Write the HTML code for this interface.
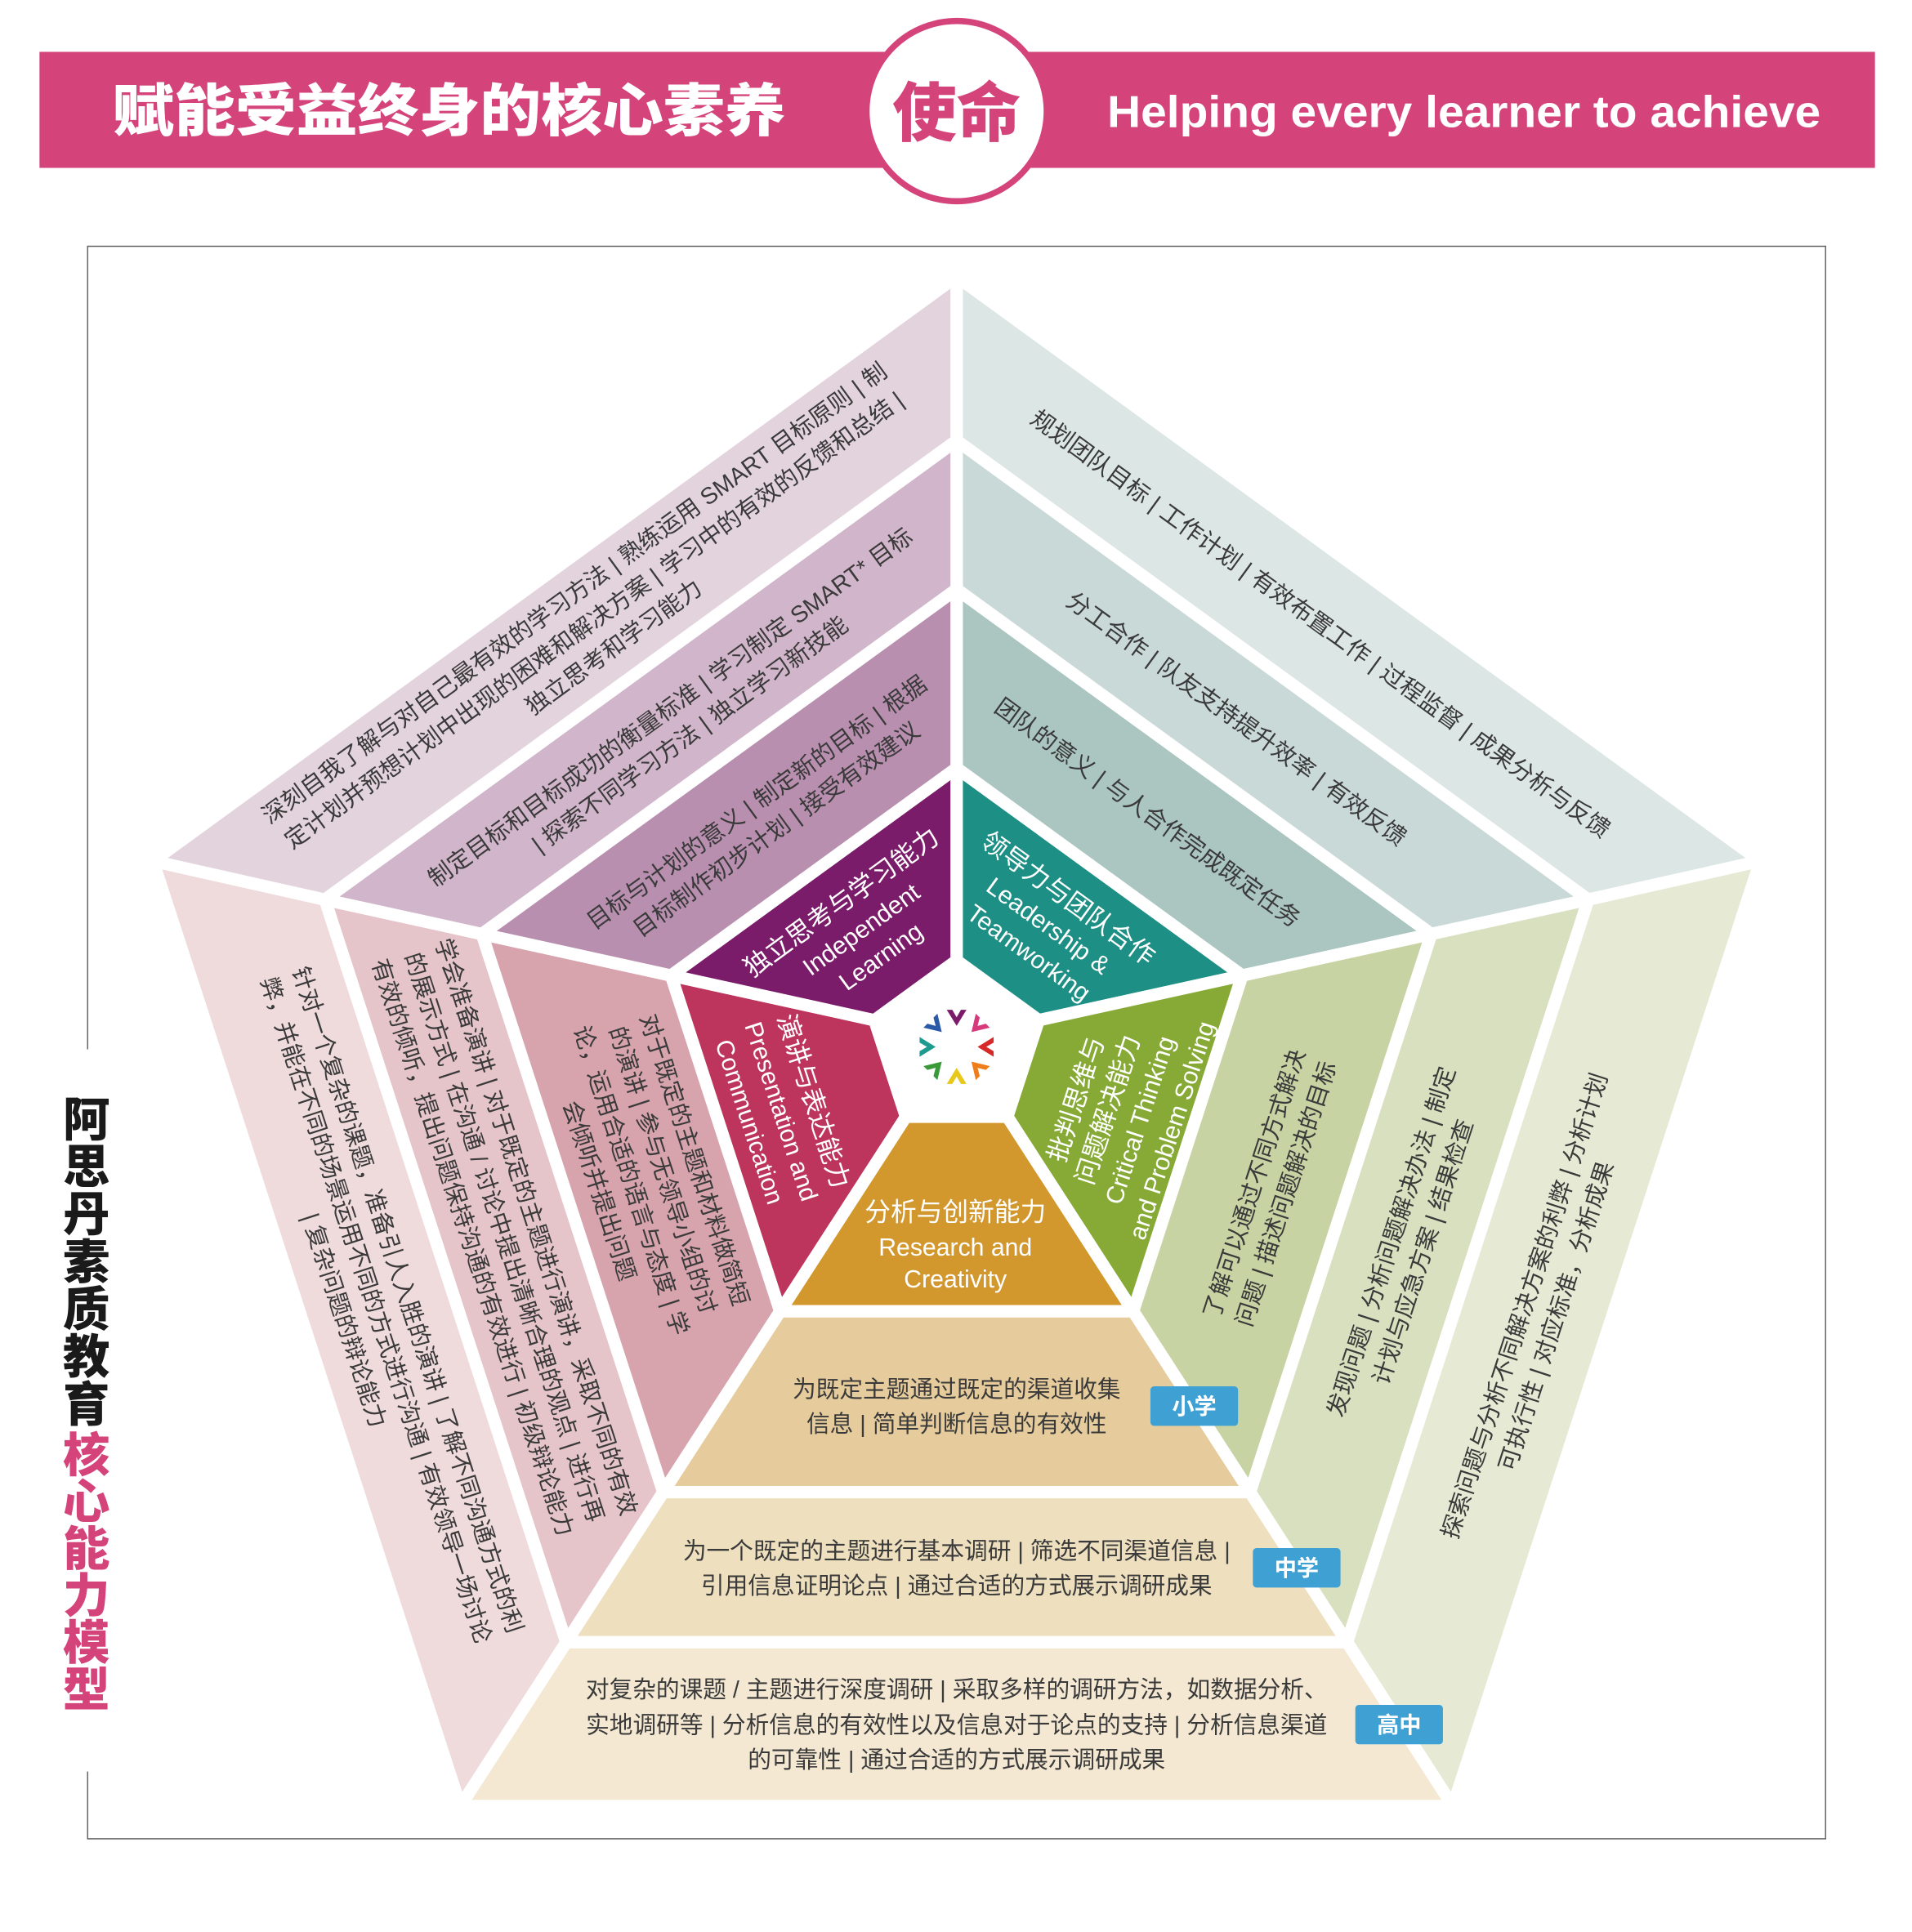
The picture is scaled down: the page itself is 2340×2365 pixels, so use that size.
<!DOCTYPE html>
<html><head><meta charset="utf-8"><style>
html,body{margin:0;padding:0;background:#fff;}
svg{display:block;}
text{font-family:"Liberation Sans","Noto Sans CJK SC",sans-serif;}
.b{font-size:19px;fill:#3a3a3a;}
.c{font-size:21px;fill:#fff;}
.e{font-size:20px;fill:#fff;}
</style></head><body>
<svg width="2340" height="2365" viewBox="0 0 1549 1565" preserveAspectRatio="none" xmlns="http://www.w3.org/2000/svg">
<rect width="1549" height="1565" fill="#fff"/>
<!-- banner -->
<rect x="32" y="42" width="1487" height="94" fill="#D4437A"/>
<circle cx="775" cy="90" r="73" fill="#fff" stroke="#D4437A" stroke-width="5"/>
<text x="364" y="106" text-anchor="middle" font-size="46" font-weight="900" fill="#fff" textLength="545" lengthAdjust="spacingAndGlyphs" style="font-family:'Noto Sans CJK SC',sans-serif">赋能受益终身的核心素养</text>
<text x="775" y="110" text-anchor="middle" font-size="52" font-weight="900" fill="#D4437A" style="font-family:'Noto Sans CJK SC',sans-serif">使命</text>
<text x="1186" y="103" text-anchor="middle" font-size="36" font-weight="bold" fill="#fff" textLength="578" lengthAdjust="spacingAndGlyphs">Helping every learner to achieve</text>
<!-- frame -->
<rect x="71" y="199.5" width="1408" height="1290" fill="none" stroke="#666" stroke-width="1"/>
<rect x="60" y="850" width="22" height="585" fill="#fff"/>
<g font-size="38" font-weight="900" text-anchor="middle" style="font-family:'Noto Sans CJK SC',sans-serif">
<text x="70" y="920" fill="#1a1a1a">阿</text><text x="70" y="958.5" fill="#1a1a1a">思</text><text x="70" y="997" fill="#1a1a1a">丹</text><text x="70" y="1035.5" fill="#1a1a1a">素</text><text x="70" y="1074" fill="#1a1a1a">质</text><text x="70" y="1112.5" fill="#1a1a1a">教</text><text x="70" y="1151" fill="#1a1a1a">育</text>
<text x="70" y="1192" fill="#D4437A">核</text><text x="70" y="1230" fill="#D4437A">心</text><text x="70" y="1268" fill="#D4437A">能</text><text x="70" y="1306" fill="#D4437A">力</text><text x="70" y="1344" fill="#D4437A">模</text><text x="70" y="1382" fill="#D4437A">型</text>
</g>
<!-- pentagon bands -->
<g stroke="#fff" stroke-width="10" stroke-linejoin="miter">
<polygon fill="#1E8F85" points="775,778 841.6,826.4 1006.4,790.2 775,622.1"/>
<polygon fill="#ABC6C1" points="775,622.1 1006.4,790.2 1159.6,756.6 775,477.2"/>
<polygon fill="#C9D9D7" points="775,477.2 1159.6,756.6 1286.8,728.7 775,356.8"/>
<polygon fill="#DCE6E4" points="775,356.8 1286.8,728.7 1426,697.5 775,224"/>
<polygon fill="#86AA35" points="841.6,826.4 816.1,904.6 918,1062.2 1006.4,790.2"/>
<polygon fill="#C8D3A3" points="1006.4,790.2 918,1062.2 1012.7,1208.7 1159.6,756.6"/>
<polygon fill="#D9E0BF" points="1159.6,756.6 1012.7,1208.7 1091.3,1330.3 1286.8,728.7"/>
<polygon fill="#E6EAD4" points="1286.8,728.7 1091.3,1330.3 1177,1463 1426,697.5"/>
<polygon fill="#D2982E" points="816.1,904.6 733.9,904.6 632,1062.2 918,1062.2"/>
<polygon fill="#E6CC9C" points="918,1062.2 632,1062.2 537.3,1208.7 1012.7,1208.7"/>
<polygon fill="#EEDFBE" points="1012.7,1208.7 537.3,1208.7 458.7,1330.3 1091.3,1330.3"/>
<polygon fill="#F4E8D2" points="1091.3,1330.3 458.7,1330.3 373,1463 1177,1463"/>
<polygon fill="#BD355D" points="733.9,904.6 708.4,826.4 543.6,790.2 632,1062.2"/>
<polygon fill="#D7A3AD" points="632,1062.2 543.6,790.2 390.4,756.6 537.3,1208.7"/>
<polygon fill="#E6C5CA" points="537.3,1208.7 390.4,756.6 263.2,728.7 458.7,1330.3"/>
<polygon fill="#EFDADC" points="458.7,1330.3 263.2,728.7 124,697.5 373,1463"/>
<polygon fill="#7B1C6A" points="708.4,826.4 775,778 775,622.1 543.6,790.2"/>
<polygon fill="#B98FB0" points="543.6,790.2 775,622.1 775,477.2 390.4,756.6"/>
<polygon fill="#D1B5CA" points="390.4,756.6 775,477.2 775,356.8 263.2,728.7"/>
<polygon fill="#E3D3DD" points="263.2,728.7 775,356.8 775,224 124,697.5"/>
</g>
<!-- logo -->
<g transform="translate(775,848)">
<g transform="rotate(0) translate(0,-23)"><polygon points="-8,-7 0,6 8,-7 3.5,-7 0,-1 -3.5,-7" fill="#7B1C6A"/></g>
<g transform="rotate(45) translate(0,-23)"><polygon points="-8,-7 0,6 8,-7 3.5,-7 0,-1 -3.5,-7" fill="#D63A7A"/></g>
<g transform="rotate(90) translate(0,-23)"><polygon points="-8,-7 0,6 8,-7 3.5,-7 0,-1 -3.5,-7" fill="#D62A2A"/></g>
<g transform="rotate(135) translate(0,-23)"><polygon points="-8,-7 0,6 8,-7 3.5,-7 0,-1 -3.5,-7" fill="#EF7D1A"/></g>
<g transform="rotate(180) translate(0,-23)"><polygon points="-8,-7 0,6 8,-7 3.5,-7 0,-1 -3.5,-7" fill="#E8C81A"/></g>
<g transform="rotate(225) translate(0,-23)"><polygon points="-8,-7 0,6 8,-7 3.5,-7 0,-1 -3.5,-7" fill="#3A9A3A"/></g>
<g transform="rotate(270) translate(0,-23)"><polygon points="-8,-7 0,6 8,-7 3.5,-7 0,-1 -3.5,-7" fill="#1E9A8F"/></g>
<g transform="rotate(315) translate(0,-23)"><polygon points="-8,-7 0,6 8,-7 3.5,-7 0,-1 -3.5,-7" fill="#2A5AA8"/></g>
</g>
<!-- core labels -->
<g text-anchor="middle">
<text transform="translate(697,752) rotate(-36)"><tspan class="c" x="0" y="-19">独立思考与学习能力</tspan><tspan class="e" x="0" y="8">Independent</tspan><tspan class="e" x="0" y="35">Learning</tspan></text>
<text transform="translate(850,749) rotate(36)"><tspan class="c" x="0" y="-19">领导力与团队合作</tspan><tspan class="e" x="0" y="8">Leadership &amp;</tspan><tspan class="e" x="0" y="35">Teamworking</tspan></text>
<text transform="translate(910,903) rotate(-72)"><tspan class="c" x="0" y="-33">批判思维与</tspan><tspan class="c" x="0" y="-6">问题解决能力</tspan><tspan class="e" x="0" y="21">Critical Thinking</tspan><tspan class="e" x="0" y="48">and Problem Solving</tspan></text>
<text transform="translate(634,900) rotate(72)"><tspan class="c" x="0" y="-19">演讲与表达能力</tspan><tspan class="e" x="0" y="8">Presentation and</tspan><tspan class="e" x="0" y="35">Communication</tspan></text>
<text class="c" x="774" y="989" font-size="22">分析与创新能力</text>
<text class="e" x="774" y="1017">Research and</text>
<text class="e" x="774" y="1043">Creativity</text>
</g>
<!-- band texts -->
<g text-anchor="middle" class="b">
<text class="b" transform="translate(481,502) rotate(-36)"><tspan x="0" y="-20">深刻自我了解与对自己最有效的学习方法 | 熟练运用 SMART 目标原则 | 制</tspan><tspan x="0" y="7">定计划并预想计划中出现的困难和解决方案 | 学习中的有效的反馈和总结 |</tspan><tspan x="0" y="34">独立思考和学习能力</tspan></text>
<text class="b" transform="translate(551,584) rotate(-36)"><tspan x="0" y="-7">制定目标和目标成功的衡量标准 | 学习制定 SMART* 目标</tspan><tspan x="0" y="20">| 探索不同学习方法 | 独立学习新技能</tspan></text>
<text class="b" transform="translate(621,661) rotate(-36)"><tspan x="0" y="-7">目标与计划的意义 | 制定新的目标 | 根据</tspan><tspan x="0" y="20">目标制作初步计划 | 接受有效建议</tspan></text>
<text class="b" transform="translate(1070,505) rotate(36)"><tspan x="0" y="7">规划团队目标 | 工作计划 | 有效布置工作 | 过程监督 | 成果分析与反馈</tspan></text>
<text class="b" transform="translate(1002,582) rotate(36)"><tspan x="0" y="7">分工合作 | 队友支持提升效率 | 有效反馈</tspan></text>
<text class="b" transform="translate(930,658) rotate(36)"><tspan x="0" y="7">团队的意义 | 与人合作完成既定任务</tspan></text>
<text class="b" transform="translate(1029,963) rotate(-72)"><tspan x="0" y="-7">了解可以通过不同方式解决</tspan><tspan x="0" y="20">问题 | 描述问题解决的目标</tspan></text>
<text class="b" transform="translate(1140,1010) rotate(-72)"><tspan x="0" y="-7">发现问题 | 分析问题解决办法 | 制定</tspan><tspan x="0" y="20">计划与应急方案 | 结果检查</tspan></text>
<text class="b" transform="translate(1248,1062) rotate(-72)"><tspan x="0" y="-7">探索问题与分析不同解决方案的利弊 | 分析计划</tspan><tspan x="0" y="20">可执行性 | 对应标准，分析成果</tspan></text>
<text class="b" transform="translate(524,952) rotate(72)"><tspan x="0" y="-34">对于既定的主题和材料做简短</tspan><tspan x="0" y="-7">的演讲 | 参与无领导小组的讨</tspan><tspan x="0" y="20">论，运用合适的语言与态度 | 学</tspan><tspan x="0" y="47">会倾听并提出问题</tspan></text>
<text class="b" transform="translate(409,1002) rotate(72)"><tspan x="0" y="-20">学会准备演讲 | 对于既定的主题进行演讲，采取不同的有效</tspan><tspan x="0" y="7">的展示方式 | 在沟通 / 讨论中提出清晰合理的观点 | 进行再</tspan><tspan x="0" y="34">有效的倾听，提出问题保持沟通的有效进行 | 初级辩论能力</tspan></text>
<text class="b" transform="translate(305,1061) rotate(72)"><tspan x="0" y="-20">针对一个复杂的课题，准备引人入胜的演讲 | 了解不同沟通方式的利</tspan><tspan x="0" y="7">弊，并能在不同的场景运用不同的方式进行沟通 | 有效领导一场讨论</tspan><tspan x="0" y="34">| 复杂问题的辩论能力</tspan></text>
<text class="b" x="775" y="1132">为既定主题通过既定的渠道收集</text>
<text class="b" x="775" y="1160">信息 | 简单判断信息的有效性</text>
<text class="b" x="775" y="1263">为一个既定的主题进行基本调研 | 筛选不同渠道信息 |</text>
<text class="b" x="775" y="1291">引用信息证明论点 | 通过合适的方式展示调研成果</text>
<text class="b" x="775" y="1375">对复杂的课题 / 主题进行深度调研 | 采取多样的调研方法，如数据分析、</text>
<text class="b" x="775" y="1404">实地调研等 | 分析信息的有效性以及信息对于论点的支持 | 分析信息渠道</text>
<text class="b" x="775" y="1432">的可靠性 | 通过合适的方式展示调研成果</text>
</g>
<!-- level tags -->
<g font-size="18" font-weight="bold" fill="#fff" text-anchor="middle">
<rect x="932" y="1123" width="71" height="32" rx="3" fill="#3FA0D4"/><text x="967.5" y="1145.5" fill="#fff">小学</text>
<rect x="1015" y="1254" width="71" height="32" rx="3" fill="#3FA0D4"/><text x="1050.5" y="1276.5" fill="#fff">中学</text>
<rect x="1098" y="1381" width="71" height="32" rx="3" fill="#3FA0D4"/><text x="1133.5" y="1403.5" fill="#fff">高中</text>
</g>
</svg>
</body></html>
